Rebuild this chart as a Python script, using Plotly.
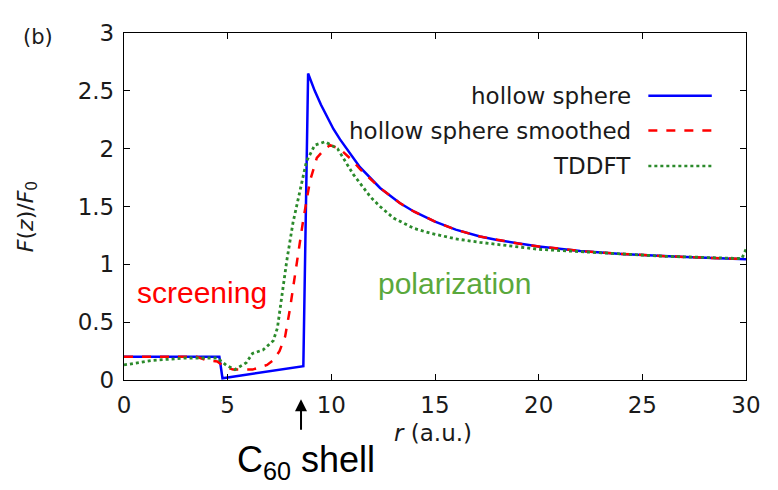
import plotly.graph_objects as go

# ---- data ----
r_hollow = [0, 4.6, 4.75, 8.65, 8.88, 9.2, 9.5, 9.8, 10.1, 10.42, 11, 11.38, 12.35, 13.3, 14, 15, 16,
            17.17, 18, 19, 20, 22, 24, 26.8, 30]
f_hollow = [0.2, 0.2, 0.015, 0.12, 2.65, 2.50, 2.38, 2.28, 2.17, 2.08, 1.93, 1.84, 1.66, 1.53, 1.455,
            1.37, 1.30, 1.24, 1.21, 1.18, 1.155, 1.115, 1.09, 1.065, 1.045]

r_smooth = [0, 3.5, 4.0, 4.5, 4.8, 5.26, 6.2, 6.7, 6.9, 7.2, 7.5, 7.77, 8.0, 8.35, 8.65, 8.97, 9.3,
            9.7, 9.94, 10.4, 11.0, 11.4, 12.35, 13.3, 14, 15, 16, 17.17, 18, 19, 20, 22, 24, 26.8, 30]
f_smooth = [0.2, 0.2, 0.17, 0.16, 0.12, 0.09, 0.09, 0.12, 0.13, 0.17, 0.25, 0.375, 0.61, 1.03, 1.39,
            1.72, 1.92, 2.0, 2.03, 2.0, 1.9, 1.82, 1.66, 1.53, 1.455, 1.37, 1.30, 1.24, 1.21, 1.18,
            1.155, 1.115, 1.09, 1.065, 1.045]

r_tddft = [0, 0.7, 1.4, 3, 4.5, 4.95, 5.35, 5.9, 6.2, 6.7, 7.2, 7.4, 7.6, 7.85, 8.15, 8.5, 8.8, 9.2,
           9.7, 10.3, 11.05, 11.9, 12.35, 13, 14, 14.76, 16, 17.17, 19, 20, 22, 26, 29.8, 30]
f_tddft = [0.13, 0.15, 0.17, 0.19, 0.19, 0.125, 0.09, 0.15, 0.23, 0.26, 0.34, 0.45, 0.72, 1.03, 1.36,
           1.64, 1.89, 2.03, 2.06, 2.0, 1.78, 1.58, 1.5, 1.40, 1.31, 1.27, 1.22, 1.19, 1.15, 1.13,
           1.11, 1.07, 1.05, 1.13]

series_names = ["hollow sphere", "hollow sphere smoothed", "TDDFT"]
x_ticks = [0, 5, 10, 15, 20, 25, 30]
y_ticks = [0, 0.5, 1, 1.5, 2, 2.5, 3]
y_tick_text = ["0", "0.5", "1", "1.5", "2", "2.5", "3"]

BLUE = "#0000ff"
RED = "#ff0000"
GREEN = "#2b8a2b"
TXT = "#1a1a1a"
FONT = "DejaVu Sans"

fig = go.Figure()
fig.add_trace(go.Scatter(x=r_hollow, y=f_hollow, mode="lines", name=series_names[0],
                         line=dict(color=BLUE, width=2.5), showlegend=False))
fig.add_trace(go.Scatter(x=r_smooth, y=f_smooth, mode="lines", name=series_names[1],
                         line=dict(color=RED, width=2.5, dash="dash"), showlegend=False))
fig.add_trace(go.Scatter(x=r_tddft, y=f_tddft, mode="lines", name=series_names[2],
                         line=dict(color=GREEN, width=2.8, dash="dot"), showlegend=False))

axis_common = dict(showline=True, linecolor="#000", linewidth=1.3, mirror="allticks",
                   ticks="inside", ticklen=6, tickwidth=1.3, tickcolor="#000",
                   showgrid=False, zeroline=False, ticklabeloverflow="allow",
                   tickfont=dict(family=FONT, size=23, color=TXT))

fig.update_xaxes(range=[0, 30], tickvals=x_ticks, ticklabelstandoff=4, **axis_common)
fig.update_yaxes(range=[0, 3], tickvals=y_ticks, ticktext=y_tick_text, ticklabelstandoff=4,
                 **axis_common)


def ann(text, x, y, size, color=TXT, family=FONT, **kw):
    d = dict(text=text, x=x, y=y, xref="paper", yref="paper", showarrow=False,
             xanchor="center", yanchor="middle",
             font=dict(family=family, size=size, color=color))
    d.update(kw)
    return d


annotations = [
    ann("(b)", -0.138, 0.989, 21),
    ann("<i>F</i>(<i>z</i>)/<i>F</i><sub>0</sub>", -0.156, 0.472, 22, textangle=-90),
    ann("<i>r</i> (a.u.)", 0.497, -0.153, 23),
    ann("screening", 0.1246, 0.252, 30, color=RED, family="Liberation Sans"),
    ann("polarization", 0.532, 0.278, 30, color="#5aa83c", family="Liberation Sans"),
    dict(text="", x=0.2846, y=-0.0556, xref="paper", yref="paper", showarrow=True,
         ax=0, ay=32, arrowhead=2, arrowsize=1.2, arrowwidth=2, arrowcolor="#000"),
    ann("C<sub>60</sub> shell", 0.2926, -0.236, 36, color="#000", family="Liberation Sans"),
]

# manual legend (text right-aligned, sample line on the right, gnuplot style)
leg_y = [0.819, 0.719, 0.617]
leg_colors = [BLUE, RED, GREEN]
leg_dash = ["solid", "dash", "dot"]
shapes = []
for name, yy, c, d in zip(series_names, leg_y, leg_colors, leg_dash):
    annotations.append(ann(name, 0.818, yy, 23, xanchor="right"))
    shapes.append(dict(type="line", xref="paper", yref="paper", x0=0.843, x1=0.945,
                       y0=yy, y1=yy, line=dict(color=c, width=2.5, dash=d)))

# page body has an 8px default margin, so margins are offset accordingly
fig.update_layout(width=778, height=490, margin=dict(l=116, r=40, t=12, b=118),
                  plot_bgcolor="white", paper_bgcolor="white",
                  annotations=annotations, shapes=shapes, showlegend=False)

fig.write_html("out.html")
